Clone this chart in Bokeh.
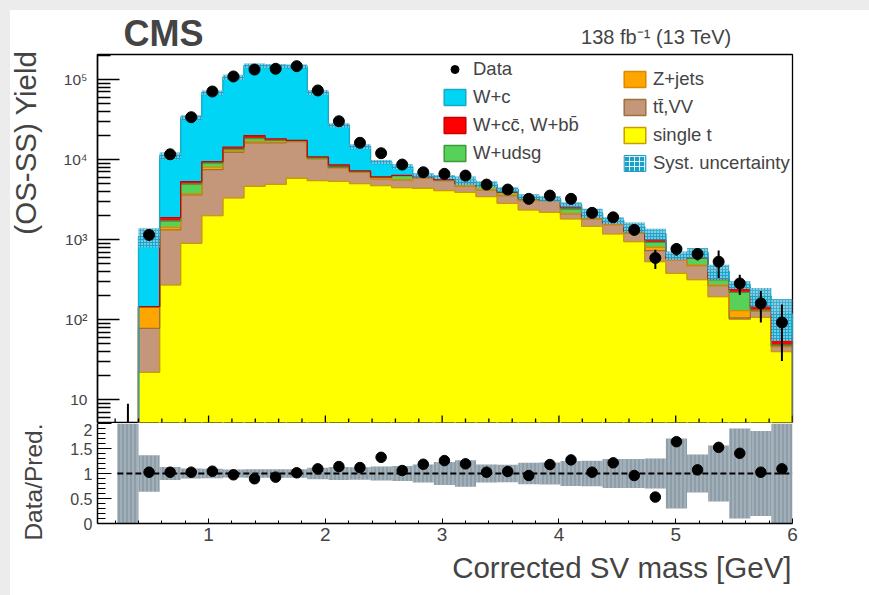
import numpy as np
from bokeh.plotting import figure
from bokeh.models import Range1d, FixedTicker, Label, Legend, LegendItem, Spacer
from bokeh.layouts import row, column
from bokeh.embed import file_html
from bokeh.resources import INLINE

# ---------------- data ----------------
# bin edges of the corrected SV mass histogram [GeV] (first bin has data only)
edges = [0.219, 0.400, 0.581, 0.761, 0.942, 1.123, 1.303, 1.484, 1.665, 1.845,
         2.026, 2.206, 2.387, 2.568, 2.748, 2.929, 3.110, 3.290, 3.471, 3.652,
         3.832, 4.013, 4.194, 4.374, 4.555, 4.735, 4.916, 5.097, 5.277, 5.458,
         5.639, 5.819, 6.000]

# stacked predictions for bins 2..32 (0.40 - 6.00 GeV)
single_t = [22, 272, 900, 1995, 3320, 4640, 4910, 5840, 5465, 5350, 5010, 4730, 4450,
            4380, 4100, 3900, 3450, 2840, 2350, 2190, 1815, 1466, 1180, 944, 531, 379,
            316, 194, 101, 107, 40]
tt_vv = [56, 1050, 2720, 5505, 9010, 11540, 11270, 10950, 4735, 2520, 1930, 1010, 1130,
         1500, 1370, 720, 730, 710, 720, 870, 280, 350, 360, 260, 198, 179, 157, 72, 4,
         20, 6]
z_jets = [65, 100, 100, 520, 440, 610, 950, 200, 100, 60, 60, 80, 50, 40, 40, 50, 40, 40,
          40, 20, 30, 30, 20, 20, 73, 8, 8, 5, 25, 2, 1]
w_udsg = [2, 295, 1250, 1080, 600, 1520, 270, 150, 150, 80, 100, 200, 680, 60, 60, 320,
          400, 310, 80, 30, 295, 40, 40, 30, 123, 10, 109, 45, 89, 3, 1]
w_ccbb = [1, 165, 340, 340, 950, 1640, 730, 200, 350, 580, 100, 60, 50, 40, 40, 30, 30,
          30, 130, 20, 115, 30, 20, 20, 66, 8, 8, 5, 23, 13, 7]
w_c = [944, 9248, 28090, 58760, 92680, 129050, 128570, 127260, 58200, 18210, 7330, 3220,
       1810, 340, 440, 450, 300, 290, 130, 120, 195, 227, 116, 165, 195, 52, 91, 79, 30,
       52, 63]
# relative systematic uncertainty of the prediction (upper panel band)
syst_rel = [0.27, 0.10, 0.07, 0.07, 0.07, 0.06, 0.06, 0.06, 0.07, 0.06, 0.07, 0.06, 0.07,
            0.06, 0.06, 0.12, 0.08, 0.07, 0.07, 0.08, 0.07, 0.13, 0.095, 0.14, 0.157,
            0.12, 0.144, 0.21, 0.11, 0.26, 0.54]

# data (all 32 bins, first bin below the axis range)
data_vals = [0.5, 1145, 11640, 33800, 70800, 109000, 133000, 136000, 146600, 72900, 30100,
             16180, 12000, 8660, 6940, 6630, 6310, 4870, 4220, 3230, 3550, 3230, 2160,
             1900, 1323, 590, 765, 662, 531, 284, 160, 92.5]
data_err = [8.4, 60, 200, 350, 500, 650, 700, 700, 720, 500, 330, 250, 220, 190, 170, 170,
            160, 140, 130, 120, 120, 115, 100, 95, 85, 160, 135, 115, 200, 80, 68, 62]

# lower panel: data / prediction (bins 2..32) and relative band (all 32 bins)
ratio_vals = [1.026, 1.026, 1.026, 1.046, 0.974, 0.895, 0.927, 1.014, 1.093, 1.139, 1.119,
              1.324, 1.06, 1.185, 1.258, 1.193, 1.026, 1.04, 0.96, 1.179, 1.272, 1.026,
              1.213, 0.96, 0.529, 1.636, 1.073, 1.523, 1.404, 1.026, 1.093]
ratio_band = [1.0, 0.365, 0.13, 0.10, 0.095, 0.08, 0.085, 0.085, 0.085, 0.115, 0.13, 0.125,
              0.14, 0.15, 0.18, 0.23, 0.265, 0.18, 0.175, 0.215, 0.22, 0.25, 0.255, 0.29,
              0.29, 0.30, 0.70, 0.38, 0.56, 0.90, 0.85, 1.0]

x_ticks = [1, 2, 3, 4, 5, 6]
x_minor = [0.2, 0.4, 0.6, 0.8, 1.2, 1.4, 1.6, 1.8, 2.2, 2.4, 2.6, 2.8, 3.2, 3.4, 3.6, 3.8,
           4.2, 4.4, 4.6, 4.8, 5.2, 5.4, 5.6, 5.8]
y_ticks = [10, 100, 1000, 10000, 100000]
y_tick_labels = ["10", "10²", "10³", "10⁴", "10⁵"]
r_ticks = [0, 0.5, 1, 1.5, 2]
r_tick_labels = ["0", "0.5", "1", "1.5", "2"]

# ---------------- styling ----------------
FONT = "Liberation Sans"
components = [
    ("single t", single_t, "#ffff00", "#cc9a06"),
    ("tt\u0304,VV", tt_vv, "#c4967a", "#a0703a"),
    ("Z+jets", z_jets, "#ffa500", "#d98a00"),
    ("W+udsg", w_udsg, "#58d158", "#3c9a3c"),
    ("W+cc\u0304, W+bb\u0304", w_ccbb, "#ff0000", "#cc0000"),
    ("W+c", w_c, "#00d5f5", "#19a9c6"),
]
BAND_MAIN = "#1e9fc5"


def text_canvas(width, height):
    """A plain figure used only to hold texts (its frame is aligned with the panels)."""
    f = figure(width=width, height=height, x_range=Range1d(0, 1), y_range=Range1d(0, 1),
               x_axis_location=None, y_axis_location=None, title=None,
               output_backend="svg", toolbar_location=None, min_border=0)
    f.grid.visible = False
    f.outline_line_color = None
    f.background_fill_color = "white"
    f.border_fill_color = "white"
    return f


e = np.array(edges)
xr = Range1d(0.049, 6.0)
FRAME_H = 368
YMIN = 5.206
YMAX = 2.05e5
PX_PER_DECADE = FRAME_H / np.log10(YMAX / YMIN)

# ---------------- upper panel ----------------
p1 = figure(width=819, height=FRAME_H + 2, x_range=xr, y_range=Range1d(YMIN, YMAX),
            y_axis_type="log", x_axis_location=None, title=None,
            output_backend="svg", toolbar_location=None,
            min_border_left=47, min_border_right=77, min_border_top=1, min_border_bottom=1)
p1.grid.visible = False
p1.outline_line_color = "black"
p1.outline_line_width = 1.3
p1.background_fill_color = "white"
p1.border_fill_color = "white"

left = e[1:-1]
right = e[2:]
bottom = np.full(len(left), 0.01)
tops = []
for name, vals, fc, lc in components:
    top = bottom + np.array(vals, dtype=float)
    p1.quad(left=left, right=right, bottom=bottom, top=top, fill_color=fc,
            line_color=fc, line_width=1)
    tops.append((top, lc))
    bottom = top
for top, lc in tops:
    xs = np.concatenate([[e[1]], e[1:]])
    ys = np.concatenate([[0.01], top, [0.01]])
    p1.step(x=xs, y=ys, mode="after", line_color=lc, line_width=1.3)

total = bottom
srel = np.array(syst_rel)
p1.quad(left=left, right=right, bottom=total * (1 - srel), top=total * (1 + srel),
        fill_color=BAND_MAIN, fill_alpha=0.85, line_color=None,
        hatch_pattern="dot", hatch_color="white", hatch_alpha=1.0, hatch_scale=3)

centers = 0.5 * (e[:-1] + e[1:])
dv = np.array(data_vals)
de = np.array(data_err)
p1.segment(x0=centers, x1=centers, y0=np.maximum(dv - de, 0.01), y1=dv + de,
           line_color="black", line_width=2)
p1.scatter(x=centers, y=dv, size=11, color="black")

# inward tick marks on the bottom edge of the upper panel (no labels there)
p1.segment(x0=x_ticks, x1=x_ticks, y0=[YMIN] * len(x_ticks),
           y1=[YMIN * 10 ** (7 / PX_PER_DECADE)] * len(x_ticks), line_color="black", line_width=1.3)
p1.segment(x0=x_minor, x1=x_minor, y0=[YMIN] * len(x_minor),
           y1=[YMIN * 10 ** (4 / PX_PER_DECADE)] * len(x_minor), line_color="black", line_width=1.3)

p1.yaxis.ticker = FixedTicker(ticks=y_ticks,
                              minor_ticks=[m * 10 ** k for k in range(0, 6) for m in range(2, 10)])
p1.yaxis.major_label_overrides = dict(zip(y_ticks, y_tick_labels))
p1.yaxis.major_label_text_font = FONT
p1.yaxis.major_label_text_font_size = "15.5px"
p1.yaxis.major_label_standoff = 10
p1.yaxis.major_tick_in = 22
p1.yaxis.major_tick_out = 0
p1.yaxis.minor_tick_in = 13
p1.yaxis.minor_tick_out = 0
p1.yaxis.axis_line_width = 1.5
p1.yaxis.major_tick_line_width = 1.5
p1.yaxis.minor_tick_line_width = 1.5

# legend swatch renderers (NaN data: nothing drawn in the plot itself)
NAN = [np.nan]
r_data = p1.scatter(x=NAN, y=NAN, size=11, color="black")
leg_r = {}
for name, vals, fc, lc in components:
    leg_r[name] = p1.quad(left=NAN, right=NAN, top=NAN, bottom=NAN, fill_color=fc,
                          line_color=lc, line_width=1.5)
leg_r["syst"] = p1.quad(left=NAN, right=NAN, top=NAN, bottom=NAN, fill_color=BAND_MAIN,
                        line_color=BAND_MAIN, hatch_pattern="cross", hatch_color="white",
                        hatch_alpha=0.8, hatch_scale=5)

items1 = [LegendItem(label="Data", renderers=[r_data]),
          LegendItem(label="W+c", renderers=[leg_r["W+c"]]),
          LegendItem(label="W+cc\u0304, W+bb\u0304", renderers=[leg_r["W+cc\u0304, W+bb\u0304"]]),
          LegendItem(label="W+udsg", renderers=[leg_r["W+udsg"]])]
items2 = [LegendItem(label="Z+jets", renderers=[leg_r["Z+jets"]]),
          LegendItem(label="tt\u0304,VV", renderers=[leg_r["tt\u0304,VV"]]),
          LegendItem(label="single t", renderers=[leg_r["single t"]]),
          LegendItem(label="Syst. uncertainty", renderers=[leg_r["syst"]])]
for items, loc in ((items1, (344, 258)), (items2, (524, 248))):
    lg = Legend(items=items, location=loc, border_line_color=None,
                background_fill_alpha=0, padding=0, margin=0, spacing=6,
                glyph_width=27, glyph_height=20, label_standoff=5,
                label_text_font=FONT, label_text_font_size="18.5px",
                label_height=20)
    p1.add_layout(lg)

# ---------------- ratio panel ----------------
p2 = figure(width=819, height=127, x_range=xr, y_range=Range1d(0, 2), title=None,
            output_backend="svg", toolbar_location=None,
            min_border_left=47, min_border_right=77, min_border_top=0, min_border_bottom=27)
p2.grid.visible = False
p2.outline_line_color = None
p2.background_fill_color = "white"
p2.border_fill_color = "white"

rb = np.array(ratio_band)
p2.quad(left=e[:-1], right=e[1:], bottom=1 - rb, top=1 + rb, fill_color="#8e9ea9",
        line_color=None, hatch_pattern="vertical_line", hatch_color="white",
        hatch_alpha=0.35, hatch_scale=4)
p2.line(x=[e[0], e[-1]], y=[1, 1], line_dash="6 3", line_width=2, line_color="black")
p2.scatter(x=centers[1:], y=ratio_vals, size=10.5, color="black")

p2.xaxis.ticker = FixedTicker(ticks=x_ticks, minor_ticks=x_minor)
p2.xaxis.major_label_text_font = FONT
p2.xaxis.major_label_text_font_size = "19px"
p2.xaxis.major_label_standoff = 4
p2.xaxis.major_tick_in = 5
p2.xaxis.major_tick_out = 0
p2.xaxis.minor_tick_in = 3
p2.xaxis.minor_tick_out = 0
p2.xaxis.axis_line_width = 1.5
p2.yaxis.ticker = FixedTicker(ticks=r_ticks, minor_ticks=[round(0.1 * i, 1) for i in range(1, 20)])
p2.yaxis.major_label_overrides = dict(zip(r_ticks, r_tick_labels))
p2.yaxis.major_label_text_font = FONT
p2.yaxis.major_label_text_font_size = "16px"
p2.yaxis.major_label_standoff = 5
p2.yaxis.major_tick_in = 14
p2.yaxis.major_tick_out = 0
p2.yaxis.minor_tick_in = 8
p2.yaxis.minor_tick_out = 0
p2.yaxis.axis_line_width = 1.5

# ---------------- text strips around the panels ----------------
# x positions are measured from the panels' frame left edge (strip frames are aligned);
# texts are anchored at their vertical middle
top_strip = text_canvas(819, 43)
top_strip.add_layout(Label(x=26, y=20, x_units="screen", y_units="screen", text="CMS",
                           text_font=FONT, text_font_style="bold", text_font_size="36px",
                           text_baseline="middle", text_align="left"))
top_strip.add_layout(Label(x=634, y=17, x_units="screen", y_units="screen",
                           text="138 fb\u207b\u00b9 (13 TeV)", text_font=FONT,
                           text_font_size="20px", text_baseline="middle",
                           text_align="right"))

bottom_strip = text_canvas(819, 45)
bottom_strip.add_layout(Label(x=694, y=27.7, x_units="screen", y_units="screen",
                              text="Corrected SV mass [GeV]", text_font=FONT,
                              text_font_size="29.5px", text_baseline="middle",
                              text_align="right"))

left_strip = text_canvas(40, 585)
left_strip.add_layout(Label(x=15, y=545, x_units="screen", y_units="screen",
                            text="(OS-SS) Yield", angle=np.pi / 2, text_font=FONT,
                            text_font_size="29.5px", text_baseline="middle",
                            text_align="right"))
left_strip.add_layout(Label(x=22.5, y=172, x_units="screen", y_units="screen",
                            text="Data/Pred.", angle=np.pi / 2, text_font=FONT,
                            text_font_size="24.5px", text_baseline="middle",
                            text_align="right"))

page = column(Spacer(width=859, height=10, styles={"background-color": "#ececec"}),
              row(left_strip, column(top_strip, p1, p2, bottom_strip)))
layout = row(Spacer(width=10, height=595, styles={"background-color": "#ececec"}), page)

open("out.html", "w").write(file_html(layout, INLINE))
